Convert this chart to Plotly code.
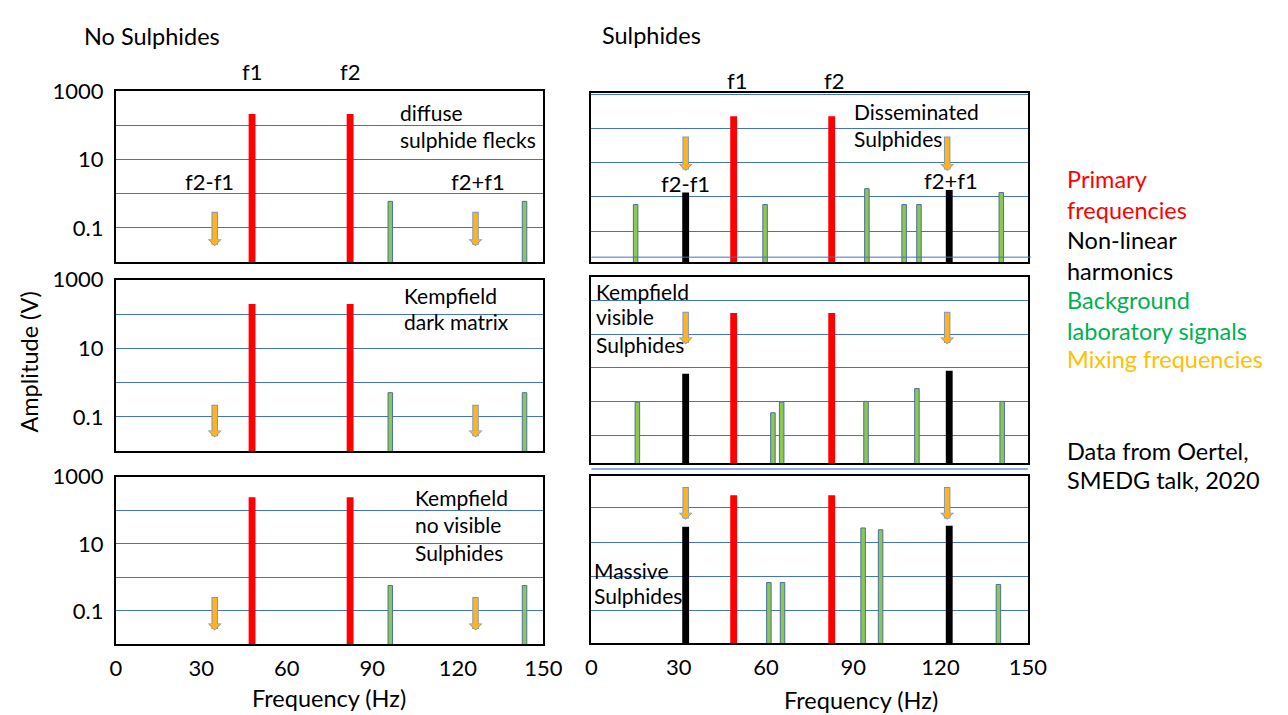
import numpy as np
import plotly.graph_objects as go

W, H = 1288, 715

# ---------------- data (frequency in Hz, amplitude in V) ----------------
# Left column: "No Sulphides"
ns_primary_f = [47.8, 82.2]
ns_bg_f = [96.3, 143.4]
ns_mix_f = [34.7, 126.2]

tl_primary_a = [218, 218]
tl_bg_a = [0.6, 0.6]
tl_mix_top = [0.33, 0.33]
tl_mix_tip = [0.029, 0.029]

ml_primary_a = [195, 195]
ml_bg_a = [0.51, 0.51]
ml_mix_top = [0.25, 0.25]
ml_mix_tip = [0.025, 0.025]

bl_primary_a = [245, 245]
bl_bg_a = [0.57, 0.57]
bl_mix_top = [0.29, 0.29]
bl_mix_tip = [0.026, 0.026]

# Right column: "Sulphides"
s_primary_f = [48.9, 82.6]
s_nonlin_f = [32.4, 123.0]
s_mix_f = [32.4, 122.3]

tr_primary_a = [235, 235]
tr_nonlin_a = [1.35, 1.6]
tr_bg_f = [15.2, 59.7, 94.7, 107.5, 112.6, 140.9]
tr_bg_a = [0.6, 0.6, 1.75, 0.6, 0.6, 1.35]
tr_mix_top = [66, 66]
tr_mix_tip = [5.8, 5.8]

mr_primary_a = [420, 420]
mr_nonlin_a = [6.6, 8.1]
mr_bg_f = [15.8, 62.4, 65.4, 94.4, 111.9, 141.2]
mr_bg_a = [0.95, 0.46, 0.95, 1.0, 2.4, 1.0]
mr_mix_top = [510, 510]
mr_mix_tip = [49, 49]

br_primary_a = [235, 235]
br_nonlin_a = [28, 30]
br_bg_f = [61.0, 65.7, 93.4, 99.4, 139.9]
br_bg_a = [0.66, 0.66, 26, 23, 0.58]
br_mix_top = [450, 450]
br_mix_tip = [45, 45]

x_ticks = [0, 30, 60, 90, 120, 150]
y_decades = [0.01, 0.1, 1, 10, 100, 1000]
y_ticktext = ["", "0.1", "", "10", "", "1000"]

# ---------------- styles ----------------
FONT = "Lato, 'Open Sans', sans-serif"
RED = "#FF0000"
BLACK = "#000000"
GREEN_FILL = "#8CC84B"
GREEN_LINE = "#4A6FA5"
ORANGE = "#FFB41E"
GRID = "#4472C4"
FS_TICK = 22
FS_IN = 21
FS_BIG = 23.5


def px_x(x):
    return x / W


def px_y(y):
    return 1 - y / H


# panel geometry in pixels: (left, right, top, bottom), y range (log10)
panels = [
    dict(name="TL", box=(112, 548, 79, 253), yr=[-2, 3], labels_y=True, labels_x=False),
    dict(name="ML", box=(112, 548, 271, 446), yr=[-2, 3], labels_y=True, labels_x=False),
    dict(name="BL", box=(112, 548, 472, 643), yr=[-2, 3], labels_y=True, labels_x=True),
    dict(name="TR", box=(597, 1042, 81, 253), yr=[-1.91, 3.04], labels_y=False, labels_x=False),
    dict(name="MR", box=(597, 1042, 268, 458), yr=[-1.83, 3.70], labels_y=False, labels_x=False),
    dict(name="BR", box=(597, 1042, 471, 642), yr=[-1.96, 2.94], labels_y=False, labels_x=True),
]

panel_data = {
    "TL": dict(pf=ns_primary_f, pa=tl_primary_a, nf=[], na=[], gf=ns_bg_f, ga=tl_bg_a,
               mf=ns_mix_f, mt=tl_mix_top, mp=tl_mix_tip),
    "ML": dict(pf=ns_primary_f, pa=ml_primary_a, nf=[], na=[], gf=ns_bg_f, ga=ml_bg_a,
               mf=ns_mix_f, mt=ml_mix_top, mp=ml_mix_tip),
    "BL": dict(pf=ns_primary_f, pa=bl_primary_a, nf=[], na=[], gf=ns_bg_f, ga=bl_bg_a,
               mf=ns_mix_f, mt=bl_mix_top, mp=bl_mix_tip),
    "TR": dict(pf=s_primary_f, pa=tr_primary_a, nf=s_nonlin_f, na=tr_nonlin_a, gf=tr_bg_f, ga=tr_bg_a,
               mf=s_mix_f, mt=tr_mix_top, mp=tr_mix_tip),
    "MR": dict(pf=s_primary_f, pa=mr_primary_a, nf=s_nonlin_f, na=mr_nonlin_a, gf=mr_bg_f, ga=mr_bg_a,
               mf=s_mix_f, mt=mr_mix_top, mp=mr_mix_tip),
    "BR": dict(pf=s_primary_f, pa=br_primary_a, nf=s_nonlin_f, na=br_nonlin_a, gf=br_bg_f, ga=br_bg_a,
               mf=s_mix_f, mt=br_mix_top, mp=br_mix_tip),
}

fig = go.Figure()
layout = dict(
    width=W, height=H, margin=dict(l=0, r=0, t=0, b=0),
    paper_bgcolor="white", plot_bgcolor="white",
    barmode="overlay", showlegend=False,
    font=dict(family=FONT, size=FS_IN, color="black"),
)
annotations = []
shapes = []

for i, p in enumerate(panels, start=1):
    xa = "x" if i == 1 else f"x{i}"
    ya = "y" if i == 1 else f"y{i}"
    l, r, t, b = p["box"]
    d = panel_data[p["name"]]
    layout["xaxis" if i == 1 else f"xaxis{i}"] = dict(
        domain=[px_x(l), px_x(r)], anchor=ya, range=[0, 150],
        showgrid=False, zeroline=False, tickvals=x_ticks,
        showticklabels=p["labels_x"], ticks="", ticklabelstandoff=3,
        showline=True, mirror=True, linecolor="black", linewidth=2,
        tickfont=dict(size=FS_TICK, family=FONT, color="black"),
    )
    layout["yaxis" if i == 1 else f"yaxis{i}"] = dict(
        domain=[px_y(b), px_y(t)], anchor=xa, type="log", range=p["yr"],
        tickvals=y_decades, ticktext=y_ticktext, showticklabels=p["labels_y"],
        ticks="", ticklabelstandoff=6,
        showgrid=True, gridcolor=GRID, gridwidth=1, zeroline=False,
        showline=True, mirror=True, linecolor="black", linewidth=2,
        tickfont=dict(size=FS_TICK, family=FONT, color="black"),
    )
    bw_px_g, bw_px = 4.6, 7.0
    scale = (r - l) / 150.0
    # background laboratory signals
    fig.add_trace(go.Bar(x=d["gf"], y=d["ga"], xaxis=xa, yaxis=ya,
                         width=[bw_px_g / scale] * len(d["gf"]),
                         marker=dict(color=GREEN_FILL, line=dict(color=GREEN_LINE, width=1))))
    # non-linear harmonics
    if d["nf"]:
        fig.add_trace(go.Bar(x=d["nf"], y=d["na"], xaxis=xa, yaxis=ya,
                             width=[bw_px / scale] * len(d["nf"]),
                             marker=dict(color=BLACK, line=dict(width=0))))
    # primary frequencies
    fig.add_trace(go.Bar(x=d["pf"], y=d["pa"], xaxis=xa, yaxis=ya,
                         width=[bw_px / scale] * len(d["pf"]),
                         marker=dict(color=RED, line=dict(width=0))))
    # mixing-frequency arrows (thin outline arrow underneath, orange arrow on top)
    for f, top, tip in zip(d["mf"], d["mt"], d["mp"]):
        annotations.append(dict(
            x=f, y=np.log10(tip), xref=xa, yref=ya,
            ax=f, ay=np.log10(top), axref=xa, ayref=ya,
            showarrow=True, text="", arrowcolor="#7C98C4", arrowwidth=6.5,
            arrowhead=1, arrowsize=0.36, standoff=0, startstandoff=0,
        ))
        annotations.append(dict(
            x=f, y=np.log10(tip), xref=xa, yref=ya,
            ax=f, ay=np.log10(top), axref=xa, ayref=ya,
            showarrow=True, text="", arrowcolor=ORANGE, arrowwidth=4.5,
            arrowhead=1, arrowsize=0.42, standoff=1, startstandoff=1,
        ))

# extra decorative horizontal lines present in the original
shapes.append(dict(type="line", xref="paper", yref="paper",
                   x0=px_x(597), x1=px_x(1045), y0=px_y(248), y1=px_y(248),
                   line=dict(color=GRID, width=1)))
shapes.append(dict(type="line", xref="paper", yref="paper",
                   x0=px_x(597), x1=px_x(1042), y0=px_y(464), y1=px_y(464),
                   line=dict(color="#8FAADC", width=2)))


def text(s, x, y, anchor="left", color="black", size=FS_IN, angle=0):
    annotations.append(dict(
        text=s, x=px_x(x), y=px_y(y), xref="paper", yref="paper",
        xanchor=anchor, yanchor="middle", showarrow=False, textangle=angle,
        font=dict(family=FONT, size=size, color=color),
    ))


text("No Sulphides", 77, 22, size=FS_BIG)
text("Sulphides", 606, 21, size=FS_BIG)
text("f1", 251, 59, "center", size=22)
text("f2", 351, 59, "center", size=22)
text("f1", 745, 68, "center", size=22)
text("f2", 844, 68, "center", size=22)
text("f2-f1", 208, 171, "center", size=22)
text("f2+f1", 481, 171, "center", size=22)
text("f2-f1", 693, 173, "center", size=22)
text("f2+f1", 964, 170, "center", size=22)
text("diffuse", 400, 100)
text("sulphide flecks", 400, 128)
text("Kempfield", 404, 287)
text("dark matrix", 404, 314)
text("Kempfield", 415, 493)
text("no visible", 415, 521)
text("Sulphides", 415, 549)
text("Disseminated", 863, 99)
text("Sulphides", 863, 127)
text("Kempfield", 600, 283)
text("visible", 600, 309)
text("Sulphides", 600, 337)
text("Massive", 598, 568)
text("Sulphides", 598, 593)
text("Amplitude (V)", 24, 355, "center", size=FS_BIG, angle=-90)
text("Frequency (Hz)", 329, 698, "center", size=FS_BIG)
text("Frequency (Hz)", 872, 700, "center", size=FS_BIG)

legend_lines = [
    ("Primary", RED, 168), ("frequencies", RED, 200),
    ("Non-linear", BLACK, 231), ("harmonics", BLACK, 262),
    ("Background", "#00B050", 292), ("laboratory signals", "#00B050", 323),
    ("Mixing frequencies", "#FFC000", 352),
    ("Data from Oertel,", BLACK, 446), ("SMEDG talk, 2020", BLACK, 475),
]
for s, c, y in legend_lines:
    text(s, 1080, y, color=c, size=FS_BIG)

layout["annotations"] = annotations
layout["shapes"] = shapes
fig.update_layout(**layout)
fig.write_html("out.html")
